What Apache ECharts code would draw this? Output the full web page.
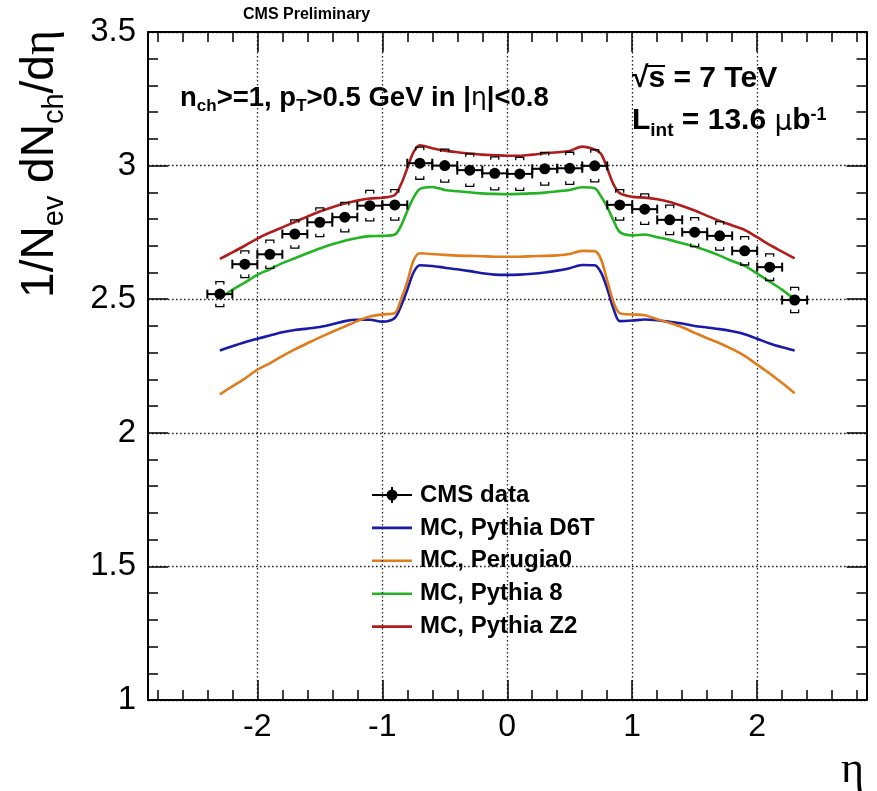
<!DOCTYPE html>
<html><head><meta charset="utf-8">
<script src="https://cdn.jsdelivr.net/npm/echarts@6/dist/echarts.min.js"></script>
<style>html,body{margin:0;padding:0;background:#fff}#c{width:877px;height:791px}</style>
</head><body><div id="c"></div>
<script>
// ---------- data ----------
const mcEta = [-2.3,-2.2,-2.1,-2.0,-1.9,-1.8,-1.7,-1.6,-1.5,-1.4,-1.3,-1.2,-1.1,-1.0,-0.9,-0.85,-0.8,-0.75,
  -0.7,-0.6,-0.5,-0.4,-0.3,-0.2,-0.1,0,0.1,0.2,0.3,0.4,0.5,0.6,0.7,
  0.75,0.8,0.85,0.9,1.0,1.1,1.2,1.3,1.4,1.5,1.6,1.7,1.8,1.9,2.0,2.1,2.2,2.3];
const pythiaD6T = [2.308,2.324,2.339,2.352,2.364,2.376,2.385,2.390,2.396,2.406,2.418,2.423,2.423,2.416,2.430,2.475,2.535,2.600,
  2.627,2.624,2.618,2.612,2.605,2.597,2.592,2.591,2.592,2.595,2.600,2.607,2.616,2.628,2.627,
  2.600,2.540,2.465,2.418,2.420,2.424,2.421,2.415,2.409,2.400,2.394,2.388,2.380,2.369,2.352,2.334,2.320,2.308];
const perugia0 = [2.144,2.174,2.203,2.236,2.260,2.287,2.312,2.335,2.357,2.378,2.398,2.418,2.435,2.443,2.448,2.500,2.565,2.645,
  2.672,2.669,2.666,2.663,2.662,2.661,2.659,2.659,2.659,2.661,2.662,2.664,2.669,2.681,2.680,
  2.650,2.570,2.490,2.448,2.443,2.440,2.425,2.411,2.395,2.374,2.354,2.335,2.313,2.288,2.255,2.222,2.186,2.148];
const pythia8 = [2.505,2.535,2.562,2.591,2.612,2.635,2.653,2.672,2.690,2.706,2.719,2.729,2.736,2.737,2.742,2.775,2.830,2.880,
  2.912,2.920,2.909,2.904,2.900,2.896,2.894,2.893,2.894,2.896,2.899,2.904,2.909,2.919,2.915,
  2.885,2.845,2.795,2.752,2.739,2.742,2.732,2.722,2.709,2.697,2.681,2.663,2.643,2.625,2.596,2.566,2.535,2.500];
const pythiaZ2 = [2.651,2.675,2.700,2.727,2.749,2.769,2.789,2.809,2.828,2.844,2.858,2.869,2.877,2.880,2.890,2.930,2.990,3.050,
  3.076,3.065,3.056,3.050,3.045,3.041,3.039,3.037,3.037,3.041,3.046,3.050,3.055,3.071,3.060,
  3.044,2.990,2.930,2.897,2.883,2.880,2.874,2.864,2.849,2.832,2.812,2.793,2.776,2.759,2.732,2.703,2.678,2.653];

const dataEta = [-2.3,-2.1,-1.9,-1.7,-1.5,-1.3,-1.1,-0.9,-0.7,-0.5,-0.3,-0.1,0.1,0.3,0.5,0.7,0.9,1.1,1.3,1.5,1.7,1.9,2.1,2.3];
const dataVal = [2.519,2.631,2.668,2.744,2.788,2.807,2.850,2.853,3.009,3.000,2.983,2.971,2.969,2.988,2.990,2.999,2.853,2.837,2.797,2.751,2.737,2.681,2.620,2.497];
const dataSys = [0.047,0.050,0.053,0.053,0.054,0.055,0.057,0.057,0.060,0.062,0.061,0.062,0.062,0.061,0.060,0.060,0.057,0.057,0.055,0.054,0.053,0.053,0.050,0.047];
const binHalfWidth = 0.1;

const xMajorTicks = [-2,-1,0,1,2];
const xMinorTicks = [-2.8,-2.6,-2.4,-2.2,-1.8,-1.6,-1.4,-1.2,-0.8,-0.6,-0.4,-0.2,0.2,0.4,0.6,0.8,1.2,1.4,1.6,1.8,2.2,2.4,2.6,2.8];

const seriesNames = ['MC, Pythia D6T','MC, Perugia0','MC, Pythia 8','MC, Pythia Z2'];
const seriesColors = ['#1a1aa8','#e07c1c','#22b422','#b01c1c'];
const mcValues = [pythiaD6T, perugia0, pythia8, pythiaZ2];

// ---------- chart ----------
const F = '"Liberation Sans", Arial, Helvetica, sans-serif';
const FS = '"Liberation Serif", "DejaVu Serif", serif';
const FG = '"DejaVu Sans", sans-serif';
const chart = echarts.init(document.getElementById('c'));

const axisLineSt = {color:'#000', width:2};
const tickSt = {color:'#000', width:1.5};
const gridDot = {type:[1.6,2.4], color:'#222', width:1.3};
const xRange = {type:'value', min:-2.875, max:2.875};

function xAx(pos, ticks, len, withLine, withLabels, withSplit){
  return Object.assign({}, xRange, {
    position: pos,
    axisLine: {show: withLine, onZero:false, lineStyle: axisLineSt},
    axisTick: {show:true, inside:true, length:len, customValues: ticks, lineStyle: tickSt},
    axisLabel: withLabels ? {show:true, customValues: ticks, fontSize:32, fontFamily:F, color:'#000', margin:11} : {show:false},
    splitLine: {show: withSplit, lineStyle: gridDot}
  });
}
function yAx(pos, withLabels, withSplit){
  return {
    type:'value', min:1, max:3.5, interval:0.5, position:pos,
    axisLine:{show:true, onZero:false, lineStyle: axisLineSt},
    axisTick:{show:true, inside:true, length:20, lineStyle: tickSt},
    minorTick:{show:true, splitNumber:5, length:10, lineStyle: tickSt},
    axisLabel: withLabels ? {show:true, fontSize:33, fontFamily:F, color:'#000', margin:12} : {show:false},
    splitLine:{show: withSplit, lineStyle: gridDot}
  };
}

function renderData(params, api){
  const x = api.value(0), y = api.value(1), s = api.value(2), ex = api.value(3);
  const c = api.coord([x,y]);
  const l = api.coord([x-ex,y]), r = api.coord([x+ex,y]);
  const u = api.coord([x,y+s]), d = api.coord([x,y-s]);
  const bw = 4, bh = 3, cap = 4.5;
  const st = {stroke:'#000', lineWidth:2, fill:null};
  const bst = {stroke:'#000', lineWidth:1.3, fill:null};
  return {type:'group', children:[
    {type:'line', shape:{x1:l[0],y1:c[1],x2:r[0],y2:c[1]}, style:st},
    {type:'line', shape:{x1:l[0],y1:c[1]-cap,x2:l[0],y2:c[1]+cap}, style:st},
    {type:'line', shape:{x1:r[0],y1:c[1]-cap,x2:r[0],y2:c[1]+cap}, style:st},
    {type:'polyline', shape:{points:[[c[0]-bw,u[1]+bh],[c[0]-bw,u[1]],[c[0]+bw,u[1]],[c[0]+bw,u[1]+bh]]}, style:bst},
    {type:'polyline', shape:{points:[[c[0]-bw,d[1]-bh],[c[0]-bw,d[1]],[c[0]+bw,d[1]],[c[0]+bw,d[1]-bh]]}, style:bst},
    {type:'circle', shape:{cx:c[0],cy:c[1],r:5.5}, style:{fill:'#000'}}
  ]};
}

const series = mcValues.map((vals, k) => ({
  name: seriesNames[k], type:'line', xAxisIndex:0, yAxisIndex:0,
  data: mcEta.map((e,i)=>[e, vals[i]]),
  showSymbol:false, smooth:0.3, z: 3,
  lineStyle:{color: seriesColors[k], width:2.6}, itemStyle:{color: seriesColors[k]},
  silent:true
}));
series.push({
  name:'CMS data', type:'custom', xAxisIndex:0, yAxisIndex:0, z:5,
  data: dataEta.map((e,i)=>[e, dataVal[i], dataSys[i], binHalfWidth]),
  encode:{x:0, y:1},
  renderItem: renderData, silent:true
});

// legend (drawn as graphic)
const legX1 = 372, legX2 = 412, legTextX = 420, legY0 = 495, legDy = 32.9;
const legFont = 'bold 24px '+F;
const legend = [];
legend.push({type:'line', shape:{x1:legX1,y1:legY0,x2:legX2,y2:legY0}, style:{stroke:'#000', lineWidth:2}});
legend.push({type:'line', shape:{x1:(legX1+legX2)/2,y1:legY0-8,x2:(legX1+legX2)/2,y2:legY0+8}, style:{stroke:'#000', lineWidth:2}});
legend.push({type:'circle', shape:{cx:(legX1+legX2)/2, cy:legY0, r:5.5}, style:{fill:'#000'}});
legend.push({type:'text', x:legTextX, y:legY0, style:{text:'CMS data', font:legFont, fill:'#000', verticalAlign:'middle'}});
seriesNames.forEach((n,k)=>{
  const yy = legY0 + legDy*(k+1);
  legend.push({type:'line', shape:{x1:legX1,y1:yy,x2:legX2,y2:yy}, style:{stroke:seriesColors[k], lineWidth:2.6}});
  legend.push({type:'text', x:legTextX, y:yy, style:{text:n, font:legFont, fill:'#000', verticalAlign:'middle'}});
});

const mRich = {fontSize:27.5, fontWeight:'bold', fontFamily:F, lineHeight:28, verticalAlign:'top'};
const sRich = {fontSize:17, fontWeight:'bold', fontFamily:F, lineHeight:17, verticalAlign:'top', padding:[14,0,0,0]};
const gRich = {fontSize:25, fontFamily:FG, lineHeight:28, verticalAlign:'top', padding:[2,0,0,0]};
const m2Rich = {fontSize:30, fontWeight:'bold', fontFamily:F, lineHeight:30, verticalAlign:'top'};
const s2Rich = {fontSize:19, fontWeight:'bold', fontFamily:F, lineHeight:19, verticalAlign:'top', padding:[15,0,0,0]};
const p2Rich = {fontSize:18, fontWeight:'bold', fontFamily:F, lineHeight:18, verticalAlign:'top'};
const g2Rich = {fontSize:28, fontFamily:FG, lineHeight:30, verticalAlign:'top', padding:[3,0,0,0]};

const graphics = [
  {type:'text', x:243, y:15, style:{text:'CMS Preliminary', font:'bold 16px '+F, fill:'#000', verticalAlign:'middle'}},
  {type:'text', x:180, y:84, style:{
    text:'{m|n}{s|ch}{m|>=1, p}{s|T}{m|>0.5 GeV in |}{g|η}{m||<0.8}',
    rich:{m:mRich, s:sRich, g:gRich}}},
  {type:'text', x:632, y:64, style:{text:'{m|√s = 7 TeV}', rich:{m:m2Rich}}},
  {type:'line', shape:{x1:646, y1:66, x2:665, y2:66}, style:{stroke:'#000', lineWidth:2}},
  {type:'text', x:632, y:106, style:{
    text:'{m|L}{s|int}{m| = 13.6 }{g|μ}{m|b}{p|-1}',
    rich:{m:m2Rich, s:s2Rich, g:g2Rich, p:p2Rich}}},
  {type:'text', x:40, y:30, rotation:Math.PI/2, style:{
    text:'{m|1/N}{s|ev}{m| dN}{s|ch}{m|/d}{g|η}', align:'right', verticalAlign:'middle',
    rich:{
      m:{fontSize:46, fontFamily:F, lineHeight:46, verticalAlign:'top'},
      s:{fontSize:29, fontFamily:F, lineHeight:29, verticalAlign:'top', padding:[23,0,0,0]},
      g:{fontSize:48, fontFamily:FS, lineHeight:46, verticalAlign:'top'}
    }}},
  {type:'text', x:864, y:770, style:{text:'η', font:'44px '+FS, fill:'#000', align:'right', verticalAlign:'middle'}},
  {type:'group', children: legend}
];

chart.setOption({
  backgroundColor:'#fff',
  animation:false,
  grid:{left:148, top:32, right:10.5, bottom:91, containLabel:false},
  xAxis:[
    xAx('bottom', xMajorTicks, 20, true, true, true),
    xAx('bottom', xMinorTicks, 10, false, false, false),
    xAx('top', xMajorTicks, 20, true, false, false),
    xAx('top', xMinorTicks, 10, false, false, false)
  ],
  yAxis:[ yAx('left', true, true), yAx('right', false, false) ],
  series: series,
  graphic: graphics
});
</script></body></html>
